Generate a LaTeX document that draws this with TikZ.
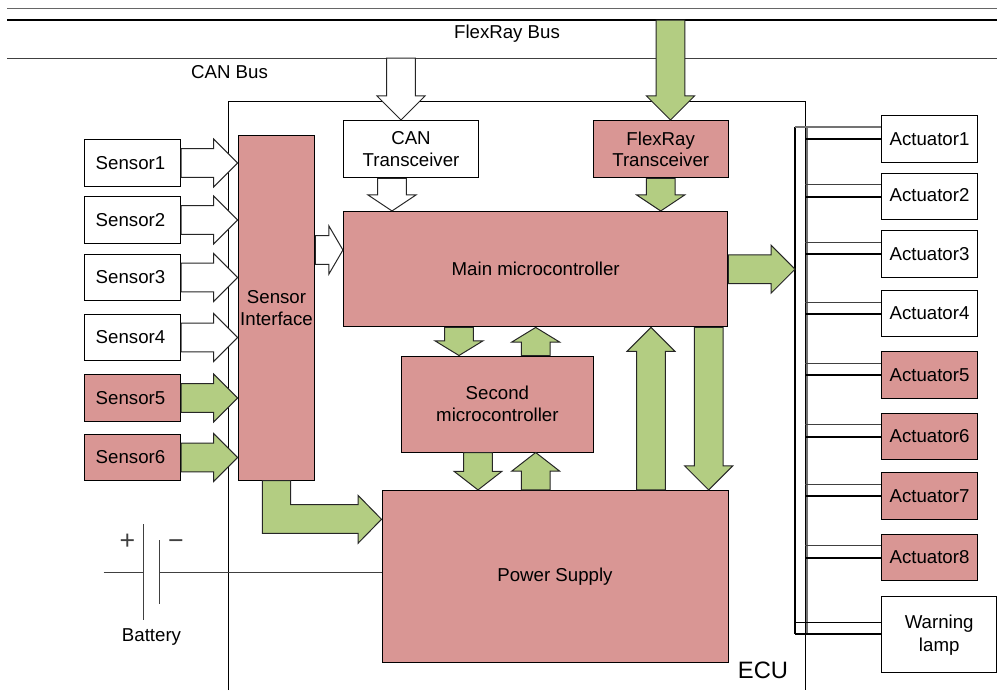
\documentclass[tikz,border=0pt]{standalone}
\usepackage{fontspec}
\setmainfont{Liberation Sans}
\usetikzlibrary{calc}
\definecolor{block_red}{HTML}{D99694}
\definecolor{flow_green}{HTML}{B3CD82}
\definecolor{wire_gray}{HTML}{404040}
\begin{document}
\begin{tikzpicture}[x=0.75pt, y=-0.75pt, line width=0.75pt,
        font=\fontsize{14}{16.3}\selectfont,
        head_len/.store in=\headlen, head_len=18pt,
        box_style/.style={draw=black, fill=white, inner sep=0pt, align=center},
        red_box_style/.style={box_style, fill=block_red},
        small_box_style/.style={minimum width=72pt, minimum height=34.8pt},
        label_style/.style={inner sep=0pt, align=center},
        block_arrow/.style={draw=black!85, to path={
            let \p1=($(\tikztotarget)!\headlen!(\tikztostart)$) in
            ($(\tikztostart)!10.8pt!90:(\tikztotarget)$) -- ($(\p1)!10.8pt!90:(\tikztotarget)$)
            -- ($(\p1)!18pt!90:(\tikztotarget)$) -- (\tikztotarget)
            -- ($(\p1)!18pt!-90:(\tikztotarget)$) -- ($(\p1)!10.8pt!-90:(\tikztotarget)$)
            -- ($(\tikztostart)!10.8pt!-90:(\tikztotarget)$) -- cycle}},
        white_arrow/.style={block_arrow, fill=white},
        green_arrow/.style={block_arrow, fill=flow_green},
        thin_wire/.style={draw=wire_gray},
        thick_wire/.style={draw=black, line width=1.5pt}]

        \useasboundingbox (0,0) rectangle (997,690);

        \coordinate (bus_top_l) at (7,8);
        \coordinate (bus_top_r) at (997,8);
        \coordinate (flex_l) at (7,20);
        \coordinate (flex_r) at (997,20);
        \coordinate (can_l) at (7,58);
        \coordinate (can_r) at (997,58);
        \coordinate (can_tap) at (401,58);
        \coordinate (flex_tap) at (670.5,20);
        \coordinate (black_bus) at (795,127);
        \coordinate (black_end) at (795,634);
        \coordinate (gray_bus) at (807,127);
        \coordinate (gray_end) at (807,634);
        \coordinate (batt_in) at (103.5,572);
        \coordinate (plate_a) at (143.7,572);
        \coordinate (plate_b) at (159.3,572);

        \draw [draw=black!60] (bus_top_l) -- (bus_top_r);
        \draw [draw=black, line width=1.6pt] (flex_l) -- (flex_r);
        \draw [thin_wire] (can_l) -- (can_r);
        \draw [draw=black] (228.5,690) -- (228.5,101) -- (805,101) -- (805,690);

        \draw [draw=black!55, line width=1.5pt] (gray_bus) -- (gray_end);
        \draw [thick_wire, line width=1.6pt] (black_bus) -- (black_end);

        \node [box_style, small_box_style](s1) at (132.5,163) {Sensor1\hspace{3pt}};
        \node [box_style, small_box_style](s2) at (132.5,220) {Sensor2\hspace{3pt}};
        \node [box_style, small_box_style](s3) at (132.5,277.5) {Sensor3\hspace{3pt}};
        \node [box_style, small_box_style](s4) at (132.5,337.5) {Sensor4\hspace{3pt}};
        \node [red_box_style, small_box_style](s5) at (132.5,398) {Sensor5\hspace{3pt}};
        \node [red_box_style, small_box_style](s6) at (132.5,457.5) {Sensor6\hspace{3pt}};
        \node [red_box_style, minimum width=57.5pt, minimum height=258.4pt](sif) at (276.5,307.8) {Sensor\\Interface};
        \node [box_style, minimum width=101.3pt, minimum height=43.1pt](can_t) at (411,149.2) {CAN\\Transceiver};
        \node [red_box_style, minimum width=101pt, minimum height=43.1pt](flex_t) at (660.7,149.2) {FlexRay\\Transceiver};
        \node [red_box_style, minimum width=288.4pt, minimum height=86.6pt](main) at (535.7,269.2) {Main microcontroller};
        \node [red_box_style, minimum width=144pt, minimum height=72pt](second) at (497.4,404) {Second\\microcontroller};
        \node [red_box_style, minimum width=259.5pt, minimum height=129.4pt](power) at (555,576.7) {Power Supply};
        \node [box_style, small_box_style](a1) at (929.5,139) {Actuator1};
        \node [box_style, small_box_style](a2) at (929.5,196.7) {\raisebox{2pt}{Actuator2}};
        \node [box_style, small_box_style](a3) at (929.5,254) {Actuator3};
        \node [box_style, small_box_style](a4) at (929.5,313.5) {Actuator4};
        \node [red_box_style, small_box_style](a5) at (929.5,375) {Actuator5};
        \node [red_box_style, small_box_style](a6) at (929.5,436.5) {Actuator6};
        \node [red_box_style, small_box_style](a7) at (929.5,495.8) {Actuator7};
        \node [red_box_style, small_box_style](a8) at (929.5,557.5) {Actuator8};
        \node [box_style, minimum width=86.6pt, minimum height=57.2pt](lamp) at (939.2,634.2) {\rule{0pt}{12pt}Warning\\[1pt]lamp};

        \node [label_style](flex_label) at (507,33.5) {FlexRay Bus};
        \node [label_style](can_label) at (229.5,72) {CAN Bus};
        \node [label_style](batt_label) at (151.5,637) {Battery};
        \node [label_style, font=\fontsize{17.8}{20}\selectfont](ecu_label) at (763,670) {ECU};
        \node [label_style, text=wire_gray, font=\fontsize{20}{22}\selectfont](plus_label) at (127.5,542) {+};
        \node [label_style, text=wire_gray, font=\fontsize{20}{22}\selectfont](minus_label) at (176,545) {−};

        \draw [thin_wire] (batt_in) -- (plate_a);
        \draw [thin_wire] (plate_b) -- (plate_b -| power.west);
        \draw [thin_wire] (143.7,524) -- (143.7,620);
        \draw [thin_wire] (159.3,540) -- (159.3,604);

        \draw [white_arrow] (s1.east) to (s1.east -| sif.west);
        \draw [white_arrow] (s2.east) to (s2.east -| sif.west);
        \draw [white_arrow] (s3.east) to (s3.east -| sif.west);
        \draw [white_arrow] (s4.east) to (s4.east -| sif.west);
        \draw [green_arrow] (s5.east) to (s5.east -| sif.west);
        \draw [green_arrow] (s6.east) to (s6.east -| sif.west);
        \draw [white_arrow, head_len=10.5pt] (315.3,250 -| sif.east) to (315.3,250 -| main.west);
        \draw [white_arrow] (can_tap) to (can_tap |- can_t.north);
        \draw [green_arrow] (flex_tap) to (flex_tap |- flex_t.north);
        \draw [white_arrow, head_len=12pt] (392,0 |- can_t.south) to (392,0 |- main.north);
        \draw [green_arrow, head_len=12pt] (flex_t.south) to (flex_t.south |- main.north);
        \draw [green_arrow] (main.east) to (main.east -| black_bus);
        \draw [green_arrow, head_len=11pt] (459,0 |- main.south) to (459,0 |- second.north);
        \draw [green_arrow, head_len=11pt] (535.7,0 |- second.north) to (535.7,0 |- main.south);
        \draw [green_arrow, head_len=14pt] (478,0 |- second.south) to (478,0 |- power.north);
        \draw [green_arrow, head_len=14pt] (535.7,0 |- power.north) to (535.7,0 |- second.south);
        \draw [green_arrow] (651,0 |- power.north) to (651,0 |- main.south);
        \draw [green_arrow] (708.7,0 |- main.south) to (708.7,0 |- power.north);
        \draw [draw=black!85, fill=flow_green] (262.3,0 |- sif.south) -- (262.3,533.3) -- (358,533.3) -- (358,543.3)
            -- (power.west |- 0,519.3) -- (358,495.3) -- (358,504.7) -- (290.7,504.7) -- (290.7,0 |- sif.south) -- cycle;

        \draw [thin_wire, line width=1.1pt, draw=black!55] (a1.west |- black_bus) -- (black_bus);
        \draw [thick_wire] (a1.west) -- (a1.west -| 805,0);
        \draw [thin_wire] (a2.west |- 0,184.3) -- (805,184.3);
        \draw [thick_wire] (a2.west) -- (a2.west -| 805,0);
        \draw [thin_wire] (a3.west |- 0,242.3) -- (805,242.3);
        \draw [thick_wire] (a3.west) -- (a3.west -| 805,0);
        \draw [thin_wire] (a4.west |- 0,302) -- (805,302);
        \draw [thick_wire] (a4.west) -- (a4.west -| 805,0);
        \draw [thin_wire] (a5.west |- 0,363) -- (805,363);
        \draw [thick_wire] (a5.west) -- (a5.west -| 805,0);
        \draw [thin_wire] (a6.west |- 0,424.7) -- (805,424.7);
        \draw [thick_wire] (a6.west) -- (a6.west -| 805,0);
        \draw [thin_wire] (a7.west |- 0,484) -- (805,484);
        \draw [thick_wire] (a7.west) -- (a7.west -| 805,0);
        \draw [thin_wire] (a8.west |- 0,545.7) -- (805,545.7);
        \draw [thick_wire] (a8.west) -- (a8.west -| 805,0);
        \draw [draw=black] (lamp.west |- 0,622.3) -- (795,622.3);
        \draw [draw=black, line width=1.1pt] (lamp.west) -- (lamp.west -| black_end);
\end{tikzpicture}
\end{document}
